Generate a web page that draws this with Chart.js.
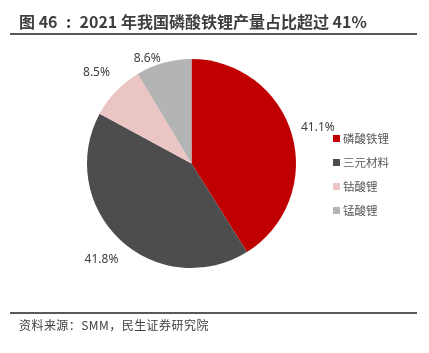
<!DOCTYPE html>
<html><head><meta charset="utf-8">
<script src="https://cdn.jsdelivr.net/npm/chart.js@4.4.1/dist/chart.umd.min.js"></script>
<style>
html,body{margin:0;padding:0;background:#fff;width:429px;height:353px;overflow:hidden;font-family:"Noto Sans CJK SC","Noto Sans",sans-serif;}
#title{position:absolute;left:19px;top:9px;font-size:16px;font-weight:bold;color:#3f3f3f;white-space:nowrap;}
#title .col{display:inline-block;width:22px;text-align:center;}
#line1{position:absolute;left:10px;top:33px;width:407px;height:2px;background:#595959;}
#line2{position:absolute;left:10px;top:312px;width:407px;height:2px;background:#595959;}
#src{position:absolute;left:19px;top:316px;font-size:12px;color:#404040;white-space:nowrap;letter-spacing:0.45px;}
#wrap{position:absolute;left:0;top:0;width:429px;height:353px;}
</style></head><body>
<div id="wrap"><canvas id="c" width="429" height="353"></canvas></div>
<div id="title">图 46<span class="col">:</span>2021 年我国磷酸铁锂产量占比超过 41%</div>
<div id="line1"></div>
<div id="line2"></div>
<div id="src">资料来源：SMM，民生证券研究院</div>
<script>
const categories = ["磷酸铁锂", "三元材料", "钴酸锂", "锰酸锂"];
const shares = [41.1, 41.8, 8.5, 8.6];
const labelsText = ["41.1%", "41.8%", "8.5%", "8.6%"];
const colors = ["#C00000", "#4D4D4F", "#EBC4C4", "#B4B4B4"];

const outLabels = {
  id: 'outLabels',
  afterDatasetsDraw(chart) {
    const ctx = chart.ctx;
    const meta = chart.getDatasetMeta(0);
    const plotTop = 53;
    ctx.save();
    ctx.font = '12px "Noto Sans", "DejaVu Sans", sans-serif';
    ctx.fillStyle = '#404040';
    ctx.textAlign = 'center';
    ctx.textBaseline = 'middle';
    meta.data.forEach((arc, i) => {
      const mid = (arc.startAngle + arc.endAngle) / 2;
      const c = Math.cos(mid), s = Math.sin(mid);
      const h = 12;
      const r = arc.outerRadius + 27;
      let x = arc.x + c * r;
      let y = arc.y + s * r;
      if (y - h / 2 < plotTop) {
        y = plotTop + h / 2;
        const rr = arc.outerRadius + 9;
        const dy = y - arc.y;
        x = arc.x + Math.sign(c) * Math.sqrt(Math.max(0, rr * rr - dy * dy));
      }
      ctx.fillText(labelsText[i], x, y);
    });
    // legend
    const lx = 333, ly0 = 138.5, step = 24;
    ctx.textAlign = 'left';
    ctx.font = '11.5px "Noto Sans CJK SC", sans-serif';
    categories.forEach((c, i) => {
      const y = ly0 + i * step;
      ctx.fillStyle = colors[i];
      ctx.fillRect(lx, y - 3.5, 7, 7);
      ctx.fillStyle = '#595959';
      ctx.fillText(c, lx + 10, y);
    });
    ctx.restore();
  }
};

new Chart(document.getElementById('c'), {
  type: 'pie',
  data: { labels: categories, datasets: [{ data: shares, backgroundColor: colors, borderWidth: 0 }] },
  options: {
    responsive: false,
    animation: false,
    layout: { padding: { left: 87, right: 133, top: 59, bottom: 85 } },
    plugins: { legend: { display: false }, tooltip: { enabled: false } }
  },
  plugins: [outLabels]
});
</script>
</body></html>
